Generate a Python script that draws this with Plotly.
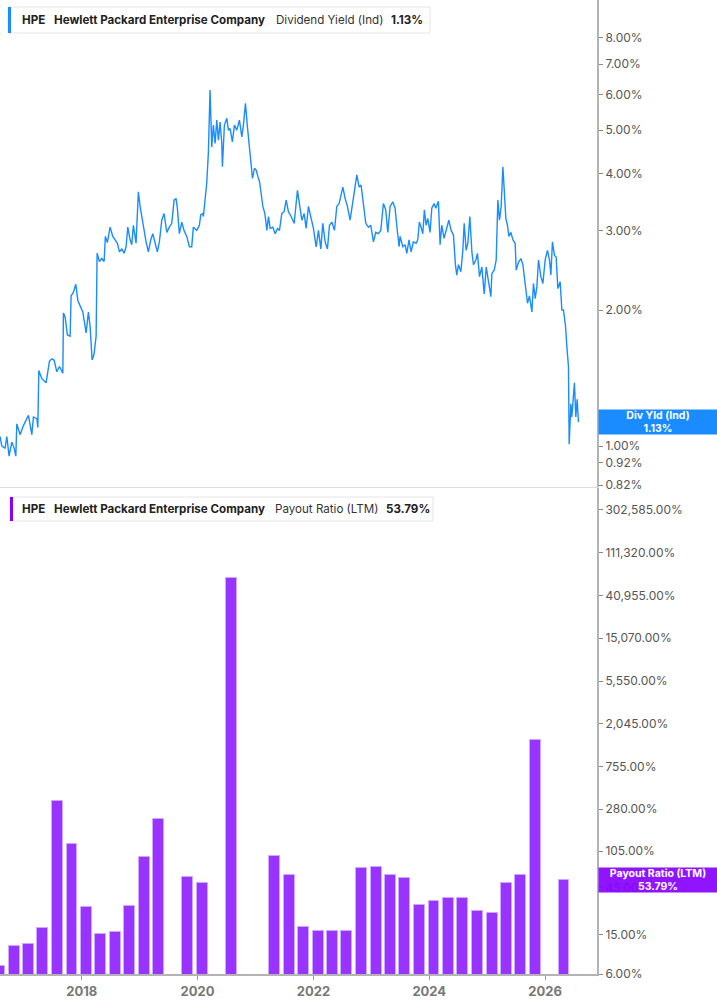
import math
from datetime import datetime
import plotly.graph_objects as go

# ---------------- data ----------------
# Dividend yield (Ind), % ; time as decimal years
yield_t = [
 2016.589,2016.618,2016.675,2016.705,2016.744,2016.791,2016.831,2016.860,2016.877,2016.934,
 2016.991,2017.050,2017.078,2017.136,2017.164,2017.223,2017.240,2017.257,2017.309,2017.383,
 2017.440,2017.482,2017.521,2017.568,2017.613,2017.672,2017.682,2017.711,2017.751,2017.798,
 2017.815,2017.855,2017.896,2017.931,2017.970,2018.017,2018.074,2018.114,2018.143,2018.178,
 2018.212,2018.247,2018.264,2018.304,2018.345,2018.385,2018.407,2018.442,2018.489,2018.535,
 2018.575,2018.615,2018.649,2018.691,2018.730,2018.765,2018.794,2018.834,2018.863,2018.891,
 2018.937,2018.977,2019.007,2019.053,2019.110,2019.150,2019.191,2019.226,2019.266,2019.305,
 2019.340,2019.381,2019.421,2019.468,2019.512,2019.554,2019.594,2019.628,2019.651,2019.685,
 2019.727,2019.766,2019.813,2019.858,2019.899,2019.927,2019.986,2020.031,2020.055,2020.089,
 2020.100,2020.158,2020.186,2020.215,2020.227,2020.245,2020.272,2020.302,2020.331,2020.359,
 2020.388,2020.417,2020.428,2020.462,2020.504,2020.531,2020.561,2020.600,2020.635,2020.676,
 2020.721,2020.762,2020.790,2020.825,2020.859,2020.894,2020.923,2020.946,2020.981,2021.010,
 2021.039,2021.067,2021.096,2021.125,2021.160,2021.195,2021.222,2021.251,2021.298,2021.338,
 2021.378,2021.412,2021.453,2021.493,2021.528,2021.567,2021.614,2021.666,2021.723,2021.757,
 2021.799,2021.839,2021.873,2021.913,2021.954,2021.999,2022.046,2022.086,2022.127,2022.161,
 2022.201,2022.241,2022.276,2022.317,2022.362,2022.403,2022.443,2022.472,2022.507,2022.547,
 2022.586,2022.633,2022.680,2022.707,2022.749,2022.789,2022.822,2022.862,2022.904,2022.949,
 2022.990,2023.035,2023.077,2023.122,2023.163,2023.208,2023.249,2023.284,2023.324,2023.370,
 2023.410,2023.439,2023.479,2023.496,2023.543,2023.583,2023.612,2023.651,2023.686,2023.726,
 2023.772,2023.802,2023.829,2023.859,2023.888,2023.916,2023.945,2023.974,2024.014,2024.044,
 2024.083,2024.113,2024.158,2024.187,2024.216,2024.256,2024.291,2024.337,2024.377,2024.417,
 2024.451,2024.475,2024.503,2024.545,2024.579,2024.602,2024.636,2024.665,2024.700,2024.735,
 2024.762,2024.803,2024.831,2024.866,2024.907,2024.947,2024.982,2025.021,2025.062,2025.080,
 2025.120,2025.154,2025.183,2025.211,2025.240,2025.270,2025.292,2025.321,2025.349,2025.373,
 2025.408,2025.442,2025.482,2025.500,2025.539,2025.581,2025.615,2025.655,2025.695,2025.729,
 2025.771,2025.798,2025.828,2025.857,2025.885,2025.926,2025.961,2026.000,2026.040,2026.075,
 2026.099,2026.126,2026.161,2026.190,2026.220,2026.259,2026.289,2026.316,2026.351,2026.375,
 2026.403,2026.415,2026.444,2026.461,2026.489,2026.506,2026.530,2026.553,2026.575,
]
yield_v = [
 1.05,1.00,0.99,1.05,0.95,1.02,0.99,0.95,1.12,1.06,
 1.11,1.15,1.17,1.06,1.16,1.15,1.10,1.47,1.41,1.38,
 1.54,1.56,1.55,1.46,1.50,1.45,1.97,1.93,1.76,1.75,
 2.15,2.19,2.28,2.10,2.05,1.98,1.78,1.98,1.84,1.55,
 1.60,1.75,2.67,2.56,2.60,2.56,2.91,2.82,3.05,2.91,
 2.86,2.81,2.69,2.73,2.67,2.76,3.05,2.86,2.79,3.08,
 2.81,3.65,3.39,3.11,2.83,2.69,2.86,2.95,2.79,2.69,
 2.83,3.16,3.27,2.97,3.05,3.11,3.50,3.53,3.36,2.95,
 3.13,3.00,2.91,2.76,2.76,3.05,3.00,3.08,3.25,3.27,
 3.22,3.82,4.45,6.13,5.45,4.59,5.13,4.67,5.26,4.75,
 5.21,4.67,4.15,5.13,5.31,5.00,5.04,4.71,5.13,5.00,
 5.26,4.83,5.13,5.73,5.08,4.52,4.15,3.91,4.12,4.08,
 3.95,3.85,3.62,3.39,3.27,3.00,3.22,3.03,3.05,2.95,
 3.03,3.00,3.27,3.30,3.50,3.30,3.22,3.11,3.68,3.39,
 3.16,3.27,3.03,3.39,3.22,3.03,2.76,3.00,2.73,3.11,
 2.83,2.73,3.08,3.13,3.00,3.39,3.44,3.59,3.74,3.53,
 3.39,3.16,3.50,3.62,3.98,3.74,3.78,3.44,3.11,3.05,
 3.08,2.83,2.97,2.95,3.00,3.44,3.33,2.97,3.39,3.47,
 3.36,3.08,2.76,2.91,2.76,2.79,2.67,2.86,2.69,2.83,
 2.81,2.86,3.13,3.05,2.95,3.33,3.08,3.19,2.97,3.36,
 3.44,3.36,3.48,2.79,3.08,2.88,3.00,3.16,3.00,2.93,
 2.52,2.39,2.52,2.43,2.71,3.11,2.71,2.81,3.22,2.69,
 2.52,2.58,2.67,2.37,2.49,2.17,2.49,2.33,2.14,2.41,
 2.45,2.58,3.50,3.16,3.39,4.15,3.74,3.19,3.08,2.91,
 2.97,2.86,2.81,2.45,2.55,2.60,2.52,2.29,2.07,2.15,
 1.98,2.29,2.12,2.25,2.58,2.37,2.29,2.58,2.71,2.58,
 2.39,2.83,2.64,2.62,2.23,2.31,2.00,2.00,1.85,1.66,
 1.50,1.01,1.24,1.16,1.31,1.38,1.16,1.27,1.13,
]

# Payout ratio (LTM), % ; fiscal quarter ends
payout_dates = [
 "2016-07-31","2016-10-31","2017-01-31","2017-04-30","2017-07-31","2017-10-31",
 "2018-01-31","2018-04-30","2018-07-31","2018-10-31","2019-01-31","2019-04-30",
 "2019-10-31","2020-01-31","2020-07-31",
 "2021-04-30","2021-07-31","2021-10-31","2022-01-31","2022-04-30","2022-07-31",
 "2022-10-31","2023-01-31","2023-04-30","2023-07-31","2023-10-31","2024-01-31",
 "2024-04-30","2024-07-31","2024-10-31","2025-01-31","2025-04-30","2025-07-31",
 "2025-10-31","2026-04-30",
]
payout_v = [
 7.2,11.6,12.1,17.7,340,124,
 28.6,15.3,15.9,29.4,92.3,221,
 57.5,50.1,61260,
 94,60,17.9,16.4,16.5,16.4,
 71,72.2,60,56.2,30.1,32.6,
 35.2,35.2,25.8,24.7,50.1,60.5,
 1400,53.79,
]

top_ticks = [0.82, 0.92, 1, 2, 3, 4, 5, 6, 7, 8]
bot_ticks = [6, 15, 45, 105, 280, 755, 2045, 5550, 15070, 40955, 111320, 302585]
year_ticks = ["2018-01-01", "2020-01-01", "2022-01-01", "2024-01-01", "2026-01-01"]
last_yield = 1.13
last_payout = 53.79


def dec_to_date(t):
    y = int(t)
    s = datetime(y, 1, 1)
    e = datetime(y + 1, 1, 1)
    return s + (e - s) * (t - y)


yield_dates = [dec_to_date(t) for t in yield_t]

# ---------------- figure ----------------
W, H = 717, 1005
ML, MR, MT, MB = 0, 120, 0, 31
PW, PH = W - ML - MR, H - MT - MB
FONT = "Inter, Roboto, sans-serif"
BLUE = "#1a8cff"
PURPLE = "#9933ff"


def px(xp):
    return xp / PW


def py(yp):
    return 1 - yp / PH


fig = go.Figure()
fig.add_trace(go.Scatter(x=yield_dates, y=yield_v, mode="lines",
                         line=dict(color=BLUE, width=1.4), xaxis="x", yaxis="y",
                         hoverinfo="skip", showlegend=False))
fig.add_trace(go.Bar(x=payout_dates, y=payout_v, xaxis="x2", yaxis="y2",
                     width=69 * 86400000,
                     marker=dict(color=PURPLE, line=dict(color="#cfa8ff", width=1)),
                     hoverinfo="skip", showlegend=False))

xrange = ["2016-08-03", "2026-11-24"]
axis_common = dict(showgrid=False, zeroline=False)

fig.update_layout(
    width=W, height=H,
    margin=dict(l=ML, r=MR, t=MT, b=MB),
    paper_bgcolor="white", plot_bgcolor="white",
    font=dict(family=FONT, color="#555", size=12),
    bargap=0,
    xaxis=dict(domain=[0, 1], anchor="y", range=xrange, type="date",
               showticklabels=False, ticks="", showline=True, linecolor="#dddddd",
               linewidth=1, matches="x2", **axis_common),
    xaxis2=dict(domain=[0, 1], anchor="y2", range=xrange, type="date",
                tickvals=year_ticks, tickformat="%Y", ticks="outside", ticklen=4,
                tickcolor="#999", showline=True, linecolor="#b3b3b3", linewidth=2,
                tickfont=dict(size=13, color="#777", family=FONT, weight="bold"),
                **axis_common),
    yaxis=dict(domain=[0.5, 1], anchor="x", side="right", type="log",
               range=[math.log10(0.812), math.log10(9.7)],
               tickvals=top_ticks, ticktext=[f"{v:.2f}%" for v in top_ticks],
               ticks="outside", ticklen=4, tickcolor="#888",
               showline=True, linecolor="#b3b3b3", linewidth=2,
               tickfont=dict(size=12, color="#555", family=FONT), **axis_common),
    yaxis2=dict(domain=[0, 0.499], anchor="x2", side="right", type="log",
                range=[math.log10(6), 5.70],
                tickvals=bot_ticks, ticktext=[f"{v:,.2f}%" for v in bot_ticks],
                ticks="outside", ticklen=4, tickcolor="#888",
                showline=True, linecolor="#b3b3b3", linewidth=2,
                tickfont=dict(size=12, color="#555", family=FONT), **axis_common),
)

shapes = []
annotations = []


def legend_box(x0, x1, y0, y1, accent, pieces):
    shapes.append(dict(type="rect", xref="paper", yref="paper",
                       x0=px(x0), x1=px(x1), y0=py(y1), y1=py(y0),
                       fillcolor="white", line=dict(color="#e6e6e6", width=1), layer="above"))
    shapes.append(dict(type="rect", xref="paper", yref="paper",
                       x0=px(x0), x1=px(x0 + 3), y0=py(y1), y1=py(y0),
                       fillcolor=accent, line=dict(width=0), layer="above"))
    yc = py((y0 + y1) / 2)
    for xpos, txt, bold in pieces:
        annotations.append(dict(xref="paper", yref="paper", x=px(xpos), y=yc,
                                xanchor="left", yanchor="middle", showarrow=False,
                                text=f"<b>{txt}</b>" if bold else txt,
                                font=dict(family=FONT, size=11.6,
                                          color="#222" if bold else "#333")))


legend_box(8, 430, 7, 33, BLUE, [
    (20, "HPE", True),
    (52, "Hewlett Packard Enterprise Company", True),
    (274, "Dividend Yield (Ind)", False),
    (389, "1.13%", True),
])
legend_box(10, 433, 497, 521, "#8a00ff", [
    (20, "HPE", True),
    (52, "Hewlett Packard Enterprise Company", True),
    (273, "Payout Ratio (LTM)", False),
    (384, "53.79%", True),
])

annotations.append(dict(xref="paper", yref="y", x=1, y=math.log10(last_yield),
                        xanchor="left", yanchor="middle", xshift=1, showarrow=False,
                        text=f"<b>Div Yld (Ind)<br>{last_yield:.2f}%</b>",
                        font=dict(family=FONT, size=10.5, color="white"),
                        bgcolor=BLUE, width=118, height=24, borderpad=0, align="center"))
annotations.append(dict(xref="paper", yref="y2", x=1, y=math.log10(last_payout),
                        xanchor="left", yanchor="middle", xshift=1, showarrow=False,
                        text=f"<b>Payout Ratio (LTM)<br>{last_payout:.2f}%</b>",
                        font=dict(family=FONT, size=10.5, color="white"),
                        bgcolor="rgba(136,0,255,0.92)", width=118, height=24,
                        borderpad=0, align="center"))

fig.update_layout(shapes=shapes, annotations=annotations)

fig.write_html("out.html", config={"displayModeBar": False},
               post_script="document.body.style.margin='0';document.body.style.overflow='hidden';")
